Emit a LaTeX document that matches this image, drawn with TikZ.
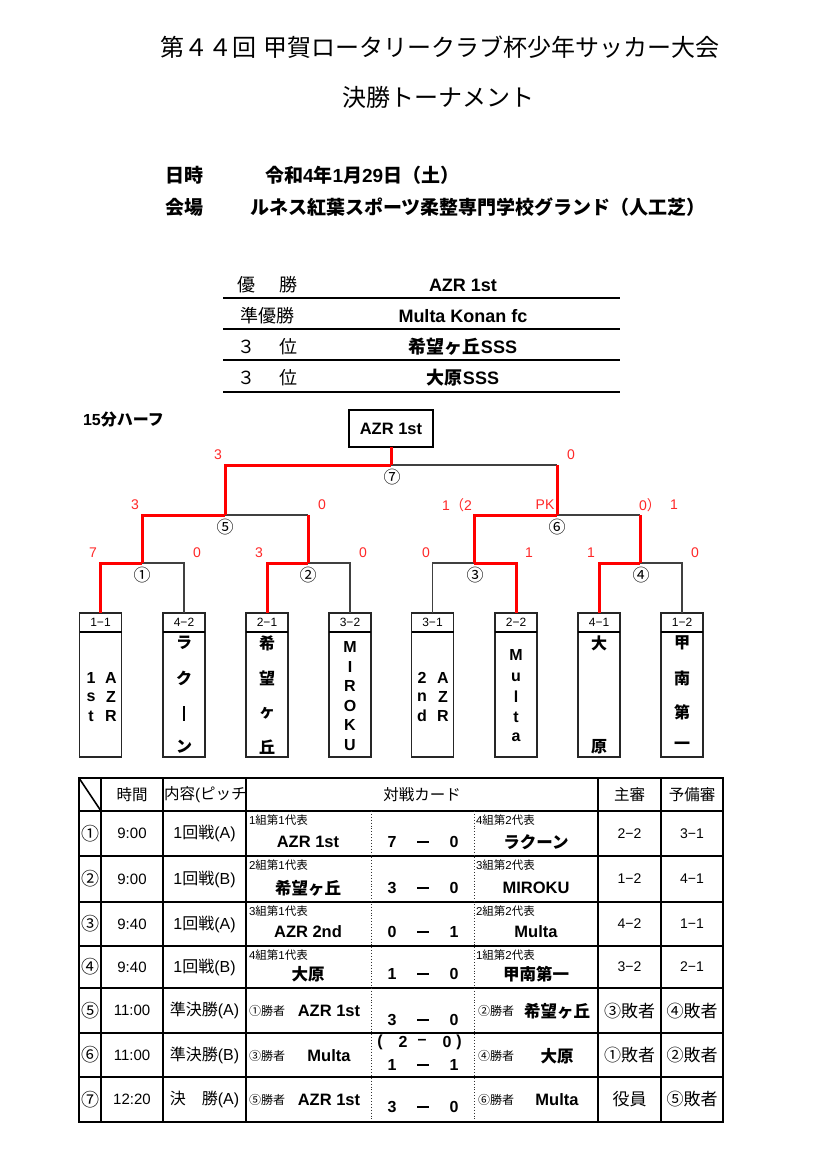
\documentclass[tikz,border=0pt]{standalone}
\usepackage{fontspec}
\setmainfont{Liberation Sans}
\newfontfamily\jpfont{Noto Sans CJK JP}
\XeTeXinterchartokenstate=1
\newXeTeXintercharclass\CJKclass
\newcount\mycnt
\def\setcjkrange#1#2{\mycnt=#1\relax\loop\XeTeXcharclass\mycnt=\CJKclass\relax\ifnum\mycnt<#2\relax\advance\mycnt by 1\relax\repeat}
\setcjkrange{"2460}{"24FF}
\setcjkrange{"3000}{"30FF}
\setcjkrange{"4E00}{"9FFF}
\setcjkrange{"FF00}{"FFEF}
\XeTeXinterchartoks 0 \CJKclass = {\jpfont}
\XeTeXinterchartoks 4095 \CJKclass = {\jpfont}
\XeTeXinterchartoks \CJKclass 0 = {\rmfamily}
\XeTeXinterchartoks \CJKclass 4095 = {\rmfamily}
\newcommand\fsz[1]{\fontsize{#1}{#1}\selectfont}
\definecolor{lred}{RGB}{255,0,0}
\definecolor{sred}{RGB}{255,40,40}
\begin{document}
\begin{tikzpicture}[x=1pt,y=-1pt,
  every node/.style={inner sep=0pt, outer sep=0pt},
  rline/.style={draw=lred, line width=3pt},
  bline/.style={draw=black!75, line width=1.5pt},
  score/.style={text=sred, font=\fsz{14}},
  mnum/.style={font=\fsz{17}},
  teambox/.style={draw=black!85, line width=1.5pt, minimum width=42pt, minimum height=144pt},
  hlabel/.style={font=\fsz{12}},
  tchar/.style={font=\bfseries\fsz{16}},
  grid/.style={line width=1.6pt},
  gridthin/.style={dotted, line width=0.9pt, draw=black!80},
  hdr/.style={font=\fsz{15.5}},
  small/.style={font=\fsz{11.5}, anchor=west},
  tname/.style={font=\bfseries\fsz{16.5}},
  sc/.style={font=\bfseries\fsz{16}},
  refc/.style={font=\fsz{14}},
  refj/.style={font=\fsz{17}},
  win/.style={font=\fsz{12}},
  tim/.style={font=\fsz{15}},
  rank/.style={font=\fsz{18}},
  rval/.style={font=\bfseries\fsz{18}},
  rrule/.style={line width=2pt}
]
\useasboundingbox (0,0) rectangle (835,1154);
\fill[white] (0,0) rectangle (835,1154);

% titles
\node[font=\fsz{24}] (title) at (440,47) {第４４回 甲賀ロータリークラブ杯少年サッカー大会};
\node[font=\fsz{24}] (subtitle) at (438,97) {決勝トーナメント};
\node[font=\bfseries\fsz{19}, anchor=west] (dl) at (165,175) {日時};
\node[font=\bfseries\fsz{19}, anchor=west] (dv) at (265,175) {令和4年1月29日（土）};
\node[font=\bfseries\fsz{19}, anchor=west] (vl) at (165,207) {会場};
\node[font=\bfseries\fsz{19}, anchor=west] (vv) at (250,207) {ルネス紅葉スポーツ柔整専門学校グランド（人工芝）};

% results list
\draw[rrule] (223,298) -- (620,298);
\draw[rrule] (223,329) -- (620,329);
\draw[rrule] (223,360) -- (620,360);
\draw[rrule] (223,392) -- (620,392);
\node[rank] (r1a) at (246,285) {優};
\node[rank] (r1b) at (288,285) {勝};
\node[rank] (r2a) at (267,316) {準優勝};
\node[rank] (r3a) at (246,347) {３};
\node[rank] (r3b) at (288,347) {位};
\node[rank] (r4a) at (246,378) {３};
\node[rank] (r4b) at (288,378) {位};
\node[rval] (v1) at (463,285) {AZR 1st};
\node[rval] (v2) at (463,316) {Multa Konan fc};
\node[rval] (v3) at (463,347) {希望ヶ丘SSS};
\node[rval] (v4) at (463,378) {大原SSS};

\node[font=\bfseries\fsz{16}, anchor=west] (half) at (83,420) {15分ハーフ};

% champion box
\node[draw, line width=1.5pt, minimum width=84pt, minimum height=37pt, font=\bfseries\fsz{16.5}] (champ) at (391,428.5) {AZR 1st};

% team boxes
\node[teambox] (t1) at (100.5,685) {};
\node[teambox] (t2) at (184,685) {};
\node[teambox] (t3) at (267,685) {};
\node[teambox] (t4) at (350,685) {};
\node[teambox] (t5) at (432.5,685) {};
\node[teambox] (t6) at (516,685) {};
\node[teambox] (t7) at (599,685) {};
\node[teambox] (t8) at (682,685) {};
\foreach \T/\L in {t1/1−1,t2/4−2,t3/2−1,t4/3−2,t5/3−1,t6/2−2,t7/4−1,t8/1−2}{
  \draw[line width=1.5pt] ([yshift=-19pt]\T.north west) -- ([yshift=-19pt]\T.north east);
  \node[hlabel] at ([yshift=-9.5pt]\T.north) {\L};
}
% team names (vertical)
\foreach \C/\Y in {1/678,s/697,t/716} \node[tchar] at (91,\Y) {\C};
\foreach \C/\Y in {A/678,Z/697,R/716} \node[tchar] at (111,\Y) {\C};
\foreach \C/\Y in {ラ/643,ク/678,ン/747} \node[tchar] at (184,\Y) {\C};
\node (bar2) at (184,713) {\rule{2.6pt}{15pt}};
\foreach \C/\Y in {希/643,望/678,ヶ/713,丘/747} \node[tchar] at (267,\Y) {\C};
\foreach \C/\Y in {M/647,I/666.6,R/686.2,O/705.8,K/725.4,U/745} \node[tchar] at (350,\Y) {\C};
\foreach \C/\Y in {2/678,n/697,d/716} \node[tchar] at (422,\Y) {\C};
\foreach \C/\Y in {A/678,Z/697,R/716} \node[tchar] at (443,\Y) {\C};
\foreach \C/\Y in {M/655,u/677,l/697,t/717,a/737} \node[tchar] at (516,\Y) {\C};
\foreach \C/\Y in {大/643,原/747} \node[tchar] at (599,\Y) {\C};
\foreach \C/\Y in {甲/643,南/678,第/712,一/746} \node[tchar] at (682,\Y) {\C};

% bracket
\coordinate (m1) at (142,563);
\coordinate (m2) at (308,563);
\coordinate (m3) at (474,563);
\coordinate (m4) at (640,563);
\coordinate (s5) at (225,515);
\coordinate (s6) at (557,515);
\coordinate (f7) at (391,465);
\draw[bline] (t2.north) |- (m1);
\draw[bline] (t4.north) |- (m2);
\draw[bline] (t5.north) |- (m3);
\draw[bline] (t8.north) |- (m4);
\draw[bline] (m2|-s5) -- (s5);
\draw[bline] (m4|-s6) -- (s6);
\draw[bline] (s6|-f7) -- (f7);
\draw[rline] (t1.north) |- (m1);
\draw[rline] (t3.north) |- (m2);
\draw[rline] (t6.north) |- (m3);
\draw[rline] (t7.north) |- (m4);
\draw[rline] (m1) |- (s5);
\draw[rline] (m2) -- (m2|-s5);
\draw[rline] (m3) |- (s6);
\draw[rline] (m4) -- (m4|-s6);
\draw[rline] (s5) |- (f7);
\draw[rline] (s6) -- (s6|-f7);
\draw[rline] (f7) -- (champ.south);

% match numbers
\node[mnum] (n1) at (142,575) {①};
\node[mnum] (n2) at (308,575) {②};
\node[mnum] (n3) at (475,575) {③};
\node[mnum] (n4) at (641,575) {④};
\node[mnum] (n5) at (225,527) {⑤};
\node[mnum] (n6) at (557,527) {⑥};
\node[mnum] (n7) at (392,477) {⑦};

% scores
\node[score] at (218,455) {3};
\node[score] at (571,455) {0};
\node[score] at (135,505) {3};
\node[score] at (322,505) {0};
\node[score] at (457,505) {1（2};
\node[score] at (545,505) {PK};
\node[score] at (650,505) {0）};
\node[score] at (674,505) {1};
\node[score] at (93,553) {7};
\node[score] at (197,553) {0};
\node[score] at (259,553) {3};
\node[score] at (363,553) {0};
\node[score] at (426,553) {0};
\node[score] at (529,553) {1};
\node[score] at (591,553) {1};
\node[score] at (695,553) {0};

% schedule table
\foreach \X in {101,163,246,598,661} \draw[grid] (\X,778) -- (\X,1122);
\foreach \Y in {811,856,902,946,988,1033,1077} \draw[grid] (79,\Y) -- (723,\Y);
\draw[gridthin] (371,811) -- (371,1122);
\draw[gridthin] (474,811) -- (474,1122);
\draw[grid] (79,778) rectangle (723,1122);
\draw[grid] (79,778) -- (101,811);

\node[hdr] (h1) at (132,795) {時間};
\begin{scope}
  \clip (163,779) rectangle (246,810);
  \node[hdr, anchor=west] (h2) at (164,795) {内容(ピッチ)};
\end{scope}
\node[hdr] (h3) at (422,795) {対戦カード};
\node[hdr] (h4) at (629.5,795) {主審};
\node[hdr] (h5) at (692,795) {予備審};

\foreach \TP/\BT/\NM/\TM/\KD/\LA/\LT/\SA/\SB/\RA/\RT/\MA/\MB in {
 811/856/①/9:00/1回戦(A)/1組第1代表/AZR 1st/7/0/4組第2代表/ラクーン/2−2/3−1,
 856/902/②/9:00/1回戦(B)/2組第1代表/希望ヶ丘/3/0/3組第2代表/MIROKU/1−2/4−1,
 902/946/③/9:40/1回戦(A)/3組第1代表/AZR 2nd/0/1/2組第2代表/Multa/4−2/1−1,
 946/988/④/9:40/1回戦(B)/4組第1代表/大原/1/0/1組第2代表/甲南第一/3−2/2−1}{
  \pgfmathsetmacro\MID{(\TP+\BT)/2}
  \pgfmathsetmacro\SMY{\TP+9}
  \pgfmathsetmacro\NMY{\BT-14}
  \node[font=\fsz{18}] at (90,\MID) {\NM};
  \node[tim] at (132,\MID) {\TM};
  \node[font=\fsz{16}] at (204.5,\MID) {\KD};
  \node[small] at (249,\SMY) {\LA};
  \node[tname] at (308,\NMY) {\LT};
  \node[sc] at (392,\NMY) {\SA};
  \draw[line width=1.8pt] (417,\NMY) -- (429,\NMY);
  \node[sc] at (454,\NMY) {\SB};
  \node[small] at (476,\SMY) {\RA};
  \node[tname] at (536,\NMY) {\RT};
  \node[refc] at (629.5,\MID) {\MA};
  \node[refc] at (692,\MID) {\MB};
}
% row 5
\node[font=\fsz{18}] at (90,1010.5) {⑤};
\node[tim] at (132,1010.5) {11:00};
\node[font=\fsz{16}] at (204.5,1010.5) {準決勝(A)};
\node[win] at (267,1011) {①勝者};
\node[tname] at (329,1011) {AZR 1st};
\node[sc] at (392,1020) {3};
\draw[line width=1.8pt] (417,1020) -- (429,1020);
\node[sc] at (454,1020) {0};
\node[win] at (496,1011) {②勝者};
\node[tname] at (557,1011) {希望ヶ丘};
\node[refj] at (629.5,1011) {③敗者};
\node[refj] at (692,1011) {④敗者};
% row 6
\node[font=\fsz{18}] at (90,1055) {⑥};
\node[tim] at (132,1055) {11:00};
\node[font=\fsz{16}] at (204.5,1055) {準決勝(B)};
\node[win] at (267,1056) {③勝者};
\node[tname] at (329,1056) {Multa};
\node[sc] at (380,1042) {(};
\node[sc] at (403,1042) {2};
\node[sc] at (422,1042) {–};
\node[sc] at (447,1042) {0};
\node[sc] at (459,1042) {)};
\node[sc] at (392,1065) {1};
\draw[line width=1.8pt] (417,1065) -- (429,1065);
\node[sc] at (454,1065) {1};
\node[win] at (496,1056) {④勝者};
\node[tname] at (557,1056) {大原};
\node[refj] at (629.5,1055) {①敗者};
\node[refj] at (692,1055) {②敗者};
% row 7
\node[font=\fsz{18}] at (90,1099.5) {⑦};
\node[tim] at (132,1099.5) {12:20};
\node[font=\fsz{16}] at (204.5,1099.5) {決　勝(A)};
\node[win] at (267,1100) {⑤勝者};
\node[tname] at (329,1100) {AZR 1st};
\node[sc] at (392,1107) {3};
\draw[line width=1.8pt] (417,1107) -- (429,1107);
\node[sc] at (454,1107) {0};
\node[win] at (496,1100) {⑥勝者};
\node[tname] at (557,1100) {Multa};
\node[refj] at (629.5,1099.5) {役員};
\node[refj] at (692,1099.5) {⑤敗者};
\end{tikzpicture}
\end{document}
